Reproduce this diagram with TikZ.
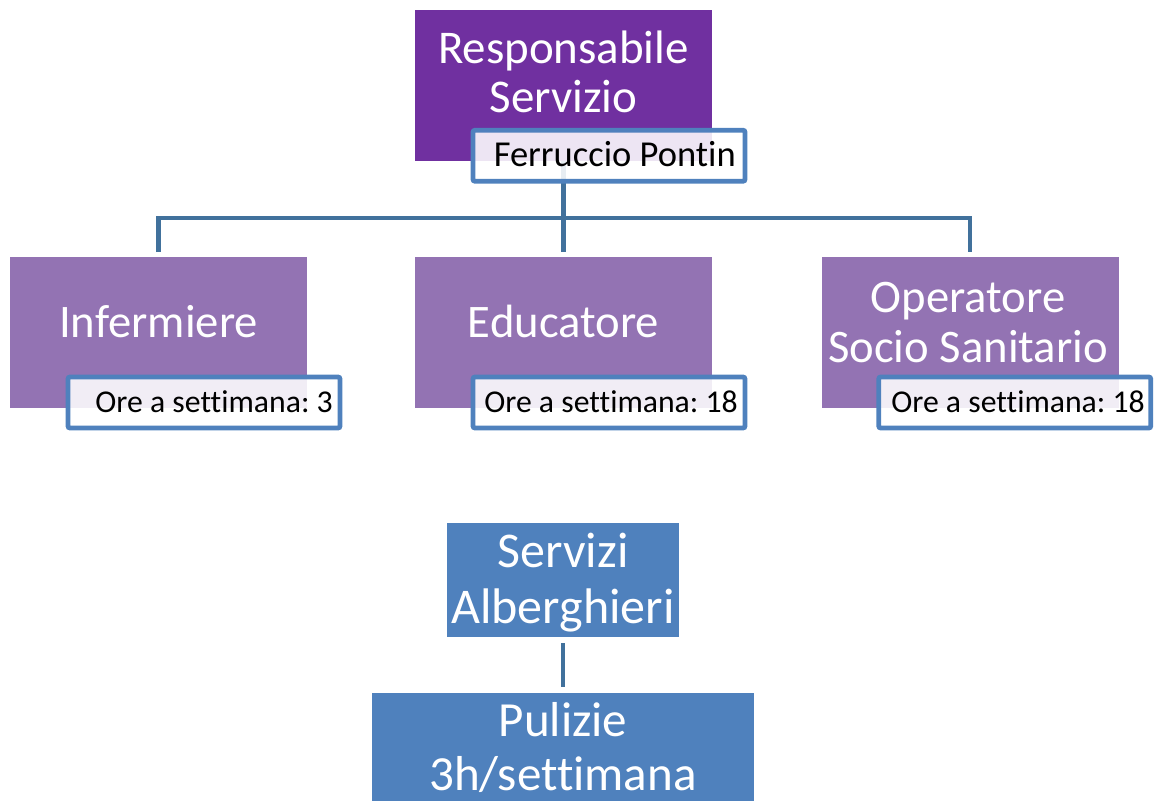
\documentclass[tikz,border=0pt]{standalone}
\usepackage{fontspec}
\setmainfont{Carlito}[Ligatures=NoCommon]
\frenchspacing
\definecolor{dpurple}{HTML}{7030A0}
\definecolor{mpurple}{HTML}{9373B3}
\definecolor{sblue}{HTML}{4F81BD}
\definecolor{connc}{HTML}{41719C}
\newcommand{\setfs}[2]{\fontsize{#1}{#2}\selectfont}
\tikzset{
  box/.style={inner sep=0pt, outer sep=0pt, draw=none},
  subbox/.style={draw=sblue, line width=3.6pt, fill=white, fill opacity=0.88,
     rounded corners=1.5pt, inner sep=0pt, outer sep=0pt,
     minimum width=204pt, minimum height=38.25pt},
  connline/.style={draw=connc, line width=3.7pt},
  wtext/.style={text=white, inner sep=0pt, anchor=base, align=center},
  btext/.style={text=black, inner sep=0pt, anchor=base},
}
\begin{document}
\begin{tikzpicture}[x=0.75pt,y=-0.75pt]
\useasboundingbox (0,0) rectangle (1157,800);
\clip (0,0) rectangle (1157,800);
% main boxes
\node[box, fill=dpurple, minimum width=297*0.75pt, minimum height=151*0.75pt] (resp) at (563.5,85.5) {};
\node[box, fill=mpurple, minimum width=297*0.75pt, minimum height=151*0.75pt] (inf) at (158.5,332.5) {};
\node[box, fill=mpurple, minimum width=297*0.75pt, minimum height=151*0.75pt] (edu) at (563.5,332.5) {};
\node[box, fill=mpurple, minimum width=297*0.75pt, minimum height=151*0.75pt] (oss) at (970,332.5) {};
\node[box, fill=sblue, minimum width=232*0.75pt, minimum height=114*0.75pt] (serv) at (563,580) {};
\node[box, fill=sblue, minimum width=382*0.75pt, minimum height=114*0.75pt] (pul) at (563,750) {};
% connectors
\coordinate (bus) at (563.5,218);
\draw[connline] (resp.south) -- (bus);
\draw[connline, shorten >=3.75pt] (bus) -- (edu.north);
\draw[connline, shorten <=3.75pt, shorten >=3.75pt] (inf.north) |- (bus) -| (oss.north);
\draw[connline, shorten <=4.5pt, shorten >=4.5pt] (serv.south) -- (pul.north);
% sub boxes
\node[subbox] (ferr) at (609,155.75) {};
\node[subbox] (infS) at (204,402.5) {};
\node[subbox] (eduS) at (609,402.5) {};
\node[subbox] (ossS) at (1014.75,402.5) {};
% texts (base = last line baseline)
\node[wtext, font=\setfs{35.2}{36.75}] (respT) at (563.5,112) {Responsabile\\Servizio};
\node[wtext, font=\setfs{35}{37.5}] (infT) at (158.5,337) {Infermiere};
\node[wtext, font=\setfs{35}{37.5}] (eduT) at (563.5,337) {Educatore};
\node[wtext, font=\setfs{35}{37.5}] (ossT) at (968,362) {Operatore\\Socio Sanitario};
\node[wtext, font=\setfs{37.5}{42}] (servT) at (563,623) {Servizi\\Alberghieri};
\node[wtext, font=\setfs{36.8}{40}] (pulT) at (563,790) {Pulizie\\3h/settimana};
\node[btext, anchor=base east, font=\setfs{27.4}{30}] (ferrT) at (736,166) {Ferruccio Pontin};
\node[btext, anchor=base east, font=\setfs{23.8}{28}] (infST) at (333,412) {Ore a settimana: 3};
\node[btext, anchor=base east, font=\setfs{23.8}{28}] (eduST) at (738,412) {Ore a settimana: 18};
\node[btext, anchor=base east, font=\setfs{23.8}{28}] (ossST) at (1145,412) {Ore a settimana: 18};
\end{tikzpicture}
\end{document}
